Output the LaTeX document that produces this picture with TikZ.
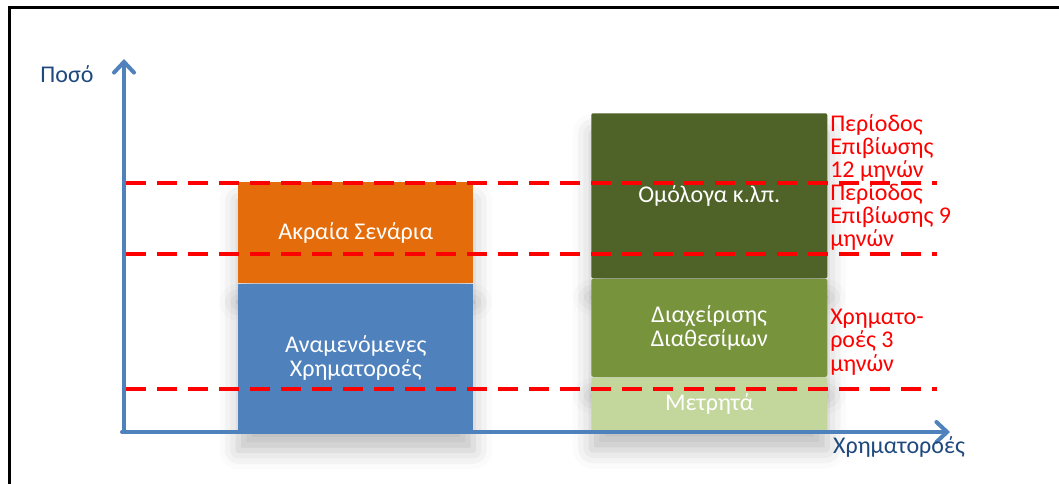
\documentclass[tikz,border=0pt]{standalone}
\usepackage{fontspec}
\setmainfont{Carlito}
\usetikzlibrary{arrows.meta,shadows.blur}

\definecolor{axisblue}{RGB}{79,129,189}
\definecolor{labelblue}{RGB}{31,73,125}
\definecolor{barorange}{RGB}{228,108,10}
\definecolor{darkgreen}{RGB}{79,98,40}
\definecolor{midgreen}{RGB}{119,147,60}
\definecolor{lightgreen}{RGB}{195,214,155}

\begin{document}
\begin{tikzpicture}[x=0.75pt,y=-0.75pt]
        \tikzstyle{txt}=[font=\fontsize{18}{17.6}\selectfont]
        \tikzstyle{bar}=[txt, rectangle, anchor=north west, inner sep=0pt, text=white, align=center,
            blur shadow={shadow xshift=0pt, shadow yshift=-14pt, shadow blur radius=14pt, shadow opacity=25}]
        \tikzstyle{axis}=[axisblue, line width=3pt, line cap=round, -{Straight Barb[length=8pt,width=15pt,line cap=round]}]
        \tikzstyle{level}=[red, line width=3pt, dash pattern=on 15pt off 8.25pt]
        \tikzstyle{note}=[txt, anchor=west, inner sep=0pt, text=red, align=left]

        \useasboundingbox (0,0) rectangle (1059,484);

        % Draw frame
        \draw[line width=2.25pt] (9,484) -- (9,8) -- (1059,8);

        % Draw left bars
        \node[bar, fill=barorange, minimum width=176.25pt, minimum height=75.75pt] (extreme) at (238,182) {Ακραία Σενάρια};
        \node[bar, fill=axisblue, minimum width=176.25pt, minimum height=111pt] (expected) at (extreme.south west) {Αναμενόμενες\\Χρηματοροές};

        % Draw right bars
        \node[bar, fill=darkgreen, rounded corners=1.5pt, minimum width=177pt, minimum height=123.75pt] (bonds) at (591,113) {Ομόλογα κ.λπ.};
        \node[bar, fill=midgreen, rounded corners=1.5pt, minimum width=177pt, minimum height=73.5pt] (treasury) at (bonds.south west) {Διαχείρισης\\Διαθεσίμων};
        \node[bar, fill=lightgreen, rounded corners=1.5pt, minimum width=177pt, minimum height=40.5pt] (cash) at (treasury.south west) {Μετρητά};

        % Add dashed levels
        \foreach \name/\y in {twelve/183, nine/254, three/389} {
            \coordinate (\name start) at (126,\y);
            \coordinate (\name end) at (937,\y);
            \draw[level] (\name start) -- (\name end);
        }

        % Add axes
        \coordinate (origin) at (124,432);
        \coordinate (ytip) at (124,59);
        \coordinate (xtip) at (950,432);
        \draw[axis] (origin) -- (ytip);
        \draw[axis] (122,432) -- (xtip);
        \node[txt, text=labelblue] (amount) at (67,74) {Ποσό};
        \node[txt, text=labelblue] (flows) at (899,447) {Χρηματοροές};

        % Add period labels
        \node[note] (period12) at (830,148) {Περίοδος\\Επιβίωσης\\12 μηνών};
        \node[note] (period9) at (830,217) {Περίοδος\\Επιβίωσης 9\\μηνών};
        \node[note] (period3) at (830,342) {Χρηματο-\\ροές 3\\μηνών};
\end{tikzpicture}
\end{document}
